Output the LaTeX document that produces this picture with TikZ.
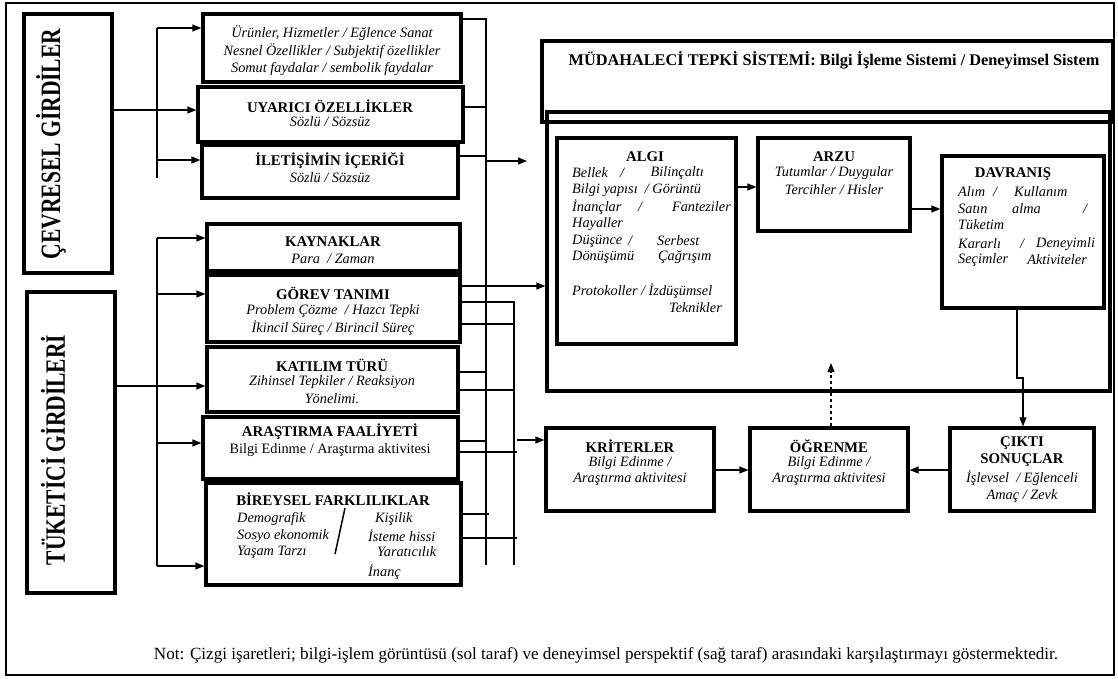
\documentclass[tikz,border=0pt]{standalone}
\usepackage{fontspec}
\usepackage{graphicx}
\setmainfont{Liberation Serif}
\usetikzlibrary{arrows.meta}
\newcommand\mybox[6][]{\node[box,#1,minimum width={(#5-#3)*1pt},minimum height={(#6-#4)*1pt}] (#2) at ({(#3+#5)/2},{(#4+#6)/2}) {};}
\begin{document}
\begin{tikzpicture}[x=1pt,y=-1pt,
  box/.style={draw, line width=3.2pt, inner sep=0pt},
  conn/.style={line width=1.1pt},
  arr/.style={line width=1.2pt, -{Triangle[length=9pt,width=7pt]}},
  ttl/.style={inner sep=0pt, font=\fontsize{14.8}{17}\selectfont\bfseries},
  itl/.style={inner sep=0pt, font=\fontsize{14.3}{17}\selectfont\itshape},
  rgl/.style={inner sep=0pt, font=\fontsize{14.3}{17}\selectfont},
  side/.style={inner sep=0pt, rotate=90, font=\fontsize{28}{30}\selectfont\bfseries},
]
\useasboundingbox (0,0) rectangle (1118,678);
\draw[line width=2.8pt] (6,3) rectangle (1114,675);

% left title boxes
\mybox{cev}{24}{14}{112}{273}
\mybox{tuk}{27}{292}{115}{593}
\node[side] (cevt) at (51,144) {\scalebox{0.77}[1]{ÇEVRESEL GİRDİLER}};
\node[side] (tukt) at (53,450) {\scalebox{0.77}[1]{TÜKETİCİ GİRDİLERİ}};

% middle column boxes
\mybox{urun}{203}{14}{461}{82}
\mybox{uyar}{198}{87}{463}{142}
\mybox{ilet}{202}{145}{458}{198}
\mybox{kay}{207}{224}{460}{271}
\mybox{gor}{207}{275}{460}{342}
\mybox{kat}{207}{347}{458}{412}
\mybox{ara}{203}{417}{458}{479}
\mybox{bir}{206}{483}{461}{585}

\node[itl] (u1) at (332,33) {Ürünler, Hizmetler / Eğlence Sanat};
\node[itl] (u2) at (332,51) {Nesnel Özellikler / Subjektif özellikler};
\node[itl] (u3) at (332,69) {Somut faydalar / sembolik faydalar};
\node[ttl] (uy1) at (330,106) {UYARICI ÖZELLİKLER};
\node[itl] (uy2) at (330,122) {Sözlü / Sözsüz};
\node[ttl] (il1) at (330,161) {İLETİŞİMİN İÇERİĞİ};
\node[itl] (il2) at (330,178) {Sözlü / Sözsüz};
\node[ttl] (ka1) at (333,242) {KAYNAKLAR};
\node[itl] (ka2) at (333,259) {Para~~/ Zaman};
\node[ttl] (go1) at (333,293) {GÖREV TANIMI};
\node[itl] (go2) at (333,311) {Problem Çözme~~/ Hazcı Tepki};
\node[itl] (go3) at (333,328) {İkincil Süreç / Birincil Süreç};
\node[ttl] (kt1) at (332,365) {KATILIM TÜRÜ};
\node[itl] (kt2) at (332,382) {Zihinsel Tepkiler / Reaksiyon};
\node[itl] (kt3) at (332,399) {Yönelimi.};
\node[ttl] (ar1) at (330,432) {ARAŞTIRMA FAALİYETİ};
\node[rgl] (ar2) at (330,450) {Bilgi Edinme / Araştırma aktivitesi};
\node[ttl] (bi1) at (333,499) {BİREYSEL FARKLILIKLAR};
\node[itl,anchor=west] (bi2) at (237,519) {Demografik};
\node[itl,anchor=west] (bi3) at (237,536) {Sosyo ekonomik};
\node[itl,anchor=west] (bi4) at (237,552) {Yaşam Tarzı};
\node[itl,anchor=west] (bi5) at (375,519) {Kişilik};
\node[itl,anchor=west] (bi6) at (368,536) {İsteme hissi};
\node[itl,anchor=west] (bi7) at (377,552) {Yaratıcılık};
\node[itl,anchor=west] (bi8) at (368,572) {İnanç};
\draw[line width=1.5pt] (335,554) -- (345,508);

% right system boxes
\mybox{head}{542}{41}{1113}{122}
\mybox{inner}{547}{112}{1110}{391}
\node[inner sep=0pt, font=\fontsize{16.3}{19}\selectfont\bfseries] (headt) at (834,60) {MÜDAHALECİ TEPKİ SİSTEMİ: Bilgi İşleme Sistemi / Deneyimsel Sistem};

\mybox{algi}{557}{138}{736}{344}
\mybox{arzu}{758}{138}{910}{231}
\mybox{davr}{942}{156}{1104}{308}

\node[ttl] (al0) at (645,157) {ALGI};
\node[itl,anchor=west] (al1a) at (572,173) {Bellek};
\node[itl] (al1b) at (622,173) {/};
\node[itl,anchor=east] (al1c) at (704,173) {Bilinçaltı};
\node[itl,anchor=west] (al2) at (572,190) {Bilgi yapısı~~/ Görüntü};
\node[itl,anchor=west] (al3a) at (572,207) {İnançlar};
\node[itl] (al3b) at (640,207) {/};
\node[itl,anchor=east] (al3c) at (731,207) {Fanteziler};
\node[itl,anchor=west] (al4) at (572,224) {Hayaller};
\node[itl,anchor=west] (al5a) at (572,241) {Düşünce};
\node[itl] (al5b) at (630,241) {/};
\node[itl,anchor=west] (al5c) at (657,241) {Serbest};
\node[itl,anchor=west] (al6a) at (572,257) {Dönüşümü};
\node[itl,anchor=west] (al6b) at (658,257) {Çağrışım};
\node[itl,anchor=west] (al7) at (572,291) {Protokoller / İzdüşümsel};
\node[itl,anchor=east] (al8) at (722,308) {Teknikler};

\node[ttl] (az0) at (834,157) {ARZU};
\node[itl] (az1) at (834,173) {Tutumlar / Duygular};
\node[itl] (az2) at (834,190) {Tercihler / Hisler};

\node[ttl] (dv0) at (1013,174) {DAVRANIŞ};
\node[itl,anchor=west] (dv1a) at (958,192) {Alım};
\node[itl] (dv1b) at (995,192) {/};
\node[itl,anchor=west] (dv1c) at (1014,192) {Kullanım};
\node[itl,anchor=west] (dv2a) at (958,209) {Satın};
\node[itl,anchor=west] (dv2b) at (1012,209) {alma};
\node[itl] (dv2c) at (1085,209) {/};
\node[itl,anchor=west] (dv3) at (958,225) {Tüketim};
\node[itl,anchor=west] (dv4a) at (958,244) {Kararlı};
\node[itl] (dv4b) at (1022,244) {/};
\node[itl,anchor=west] (dv4c) at (1036,244) {Deneyimli};
\node[itl,anchor=west] (dv5a) at (958,260) {Seçimler};
\node[itl,anchor=east] (dv5b) at (1087,260) {Aktiviteler};

% bottom boxes
\mybox{krit}{546}{428}{714}{511}
\mybox{ogr}{750}{428}{908}{511}
\mybox{cikti}{950}{428}{1094}{511}
\node[ttl] (kr0) at (630,446) {KRİTERLER};
\node[itl] (kr1) at (630,463) {Bilgi Edinme /};
\node[itl] (kr2) at (630,479) {Araştırma aktivitesi};
\node[ttl] (og0) at (829,446) {ÖĞRENME};
\node[itl] (og1) at (829,463) {Bilgi Edinme /};
\node[itl] (og2) at (829,479) {Araştırma aktivitesi};
\node[ttl] (ck0) at (1022,443) {ÇIKTI};
\node[ttl] (ck1) at (1022,460) {SONUÇLAR};
\node[itl] (ck2) at (1022,478) {İşlevsel~~/ Eğlenceli};
\node[itl] (ck3) at (1022,496) {Amaç / Zevk};

% note
\node[inner sep=0pt, font=\fontsize{17.1}{20}\selectfont] (note) at (606,655) {Not: Çizgi işaretleri; bilgi-işlem görüntüsü (sol taraf) ve deneyimsel perspektif (sağ taraf) arasındaki karşılaştırmayı göstermektedir.};

% left branches
\coordinate (b1t) at (157,28);
\coordinate (b1b) at (157,178);
\draw[conn] (b1t) -- (b1b);
\draw[arr] (b1t) -- (urun.west |- b1t);
\draw[arr] (cev.east |- 0,110) -- (uyar.west |- 0,110);
\draw[arr] (b1t |- 0,160) -- (ilet.west |- 0,160);
\coordinate (b2t) at (157,238);
\coordinate (b2b) at (157,566);
\draw[conn] (b2t) -- (b2b);
\draw[arr] (b2t) -- (kay.west |- b2t);
\draw[arr] (b2t |- 0,294) -- (gor.west |- 0,294);
\draw[arr] (tuk.east |- 0,386) -- (kat.west |- 0,386);
\draw[arr] (b2t |- 0,443) -- (ara.west |- 0,443);
\draw[arr] (b2b) -- (bir.west |- b2b);

% right collector lines
\coordinate (v1t) at (486,19);
\coordinate (v1b) at (486,565);
\coordinate (v1x) at (489,0);
\coordinate (v2t) at (514,302);
\coordinate (v2b) at (514,565);
\coordinate (v2x) at (517,0);
\coordinate (arrend) at (527,161);
\draw[conn] (urun.east |- v1t) -- (v1t) -- (v1b);
\draw[conn] (uyar.east |- 0,107) -- (v1t |- 0,107);
\draw[conn] (ilet.east |- 0,156) -- (v1t |- 0,156);
\draw[arr] (v1t |- arrend) -- (arrend);
\draw[arr] (gor.east |- 0,286) -- (inner.west |- 0,286);
\draw[conn] (gor.east |- v2t) -- (v2t) -- (v2b);
\draw[conn] (gor.east |- 0,324) -- (v2t |- 0,324);
\draw[conn] (kat.east |- 0,372) -- (v1t |- 0,372);
\draw[conn] (kat.east |- 0,390) -- (v2t |- 0,390);
\draw[conn] (ara.east |- 0,441) -- (v1t |- 0,441);
\draw[conn] (ara.east |- 0,452) -- (v2x |- 0,452);
\draw[arr] (v2x |- 0,440) -- (krit.west |- 0,440);
\draw[conn] (bir.east |- 0,514) -- (v1x |- 0,514);
\draw[conn] (bir.east |- 0,538) -- (v2x |- 0,538);

% system connectors
\draw[arr] (algi.east |- 0,187) -- (arzu.west |- 0,187);
\draw[arr] (arzu.east |- 0,209) -- (davr.west |- 0,209);
\coordinate (j1) at (1017,378);
\coordinate (j2) at (1023,378);
\draw[arr] (davr.south -| j1) -- (j1) -- (j2) -- (cikti.north -| j2);
\draw[arr] (krit.east |- 0,470) -- (ogr.west |- 0,470);
\draw[arr] (cikti.west |- 0,470) -- (ogr.east |- 0,470);
\coordinate (dtip) at (831,363);
\draw[arr, dashed] (ogr.north -| dtip) -- (dtip);
\end{tikzpicture}
\end{document}
